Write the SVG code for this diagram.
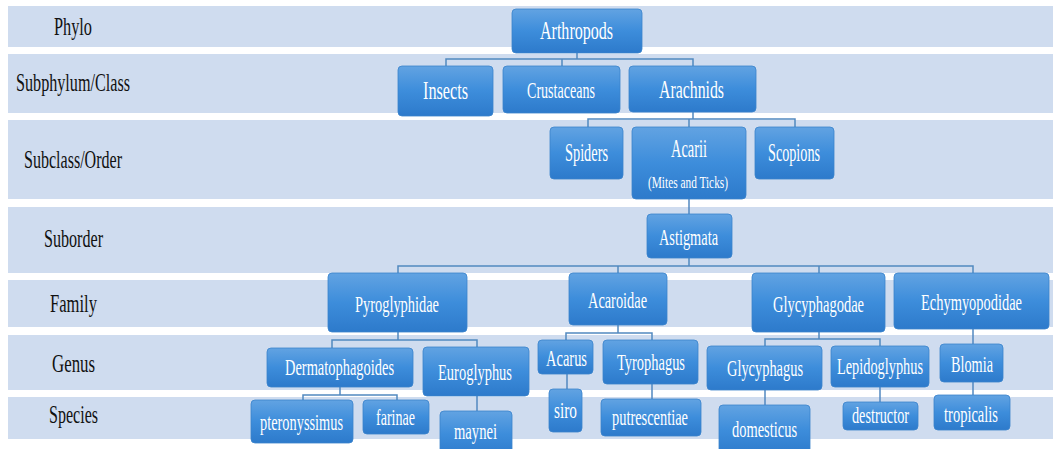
<svg xmlns="http://www.w3.org/2000/svg" width="1053" height="449" viewBox="0 0 1053 449">
<defs>
<linearGradient id="g" x1="0" y1="0" x2="0" y2="1">
<stop offset="0" stop-color="#62a3e2"/>
<stop offset="0.5" stop-color="#3d8ddb"/>
<stop offset="1" stop-color="#2d7acb"/>
</linearGradient>
<style>
.band{fill:#cfdcef}
text{font-family:"Liberation Serif","Times New Roman",serif;text-anchor:middle}
.lbl{font-size:25px;fill:#111}
.n rect{fill:url(#g);stroke:#3a83cc;stroke-width:0.8}
.n text{font-size:25px;fill:#fff}
.n text.s{font-size:17px}
.n text.m{font-size:23px}
.c{fill:none;stroke:#5289c0;stroke-width:1.5}
</style>
</defs>
<rect width="1053" height="449" fill="#ffffff"/>
<g id="bands">
<rect class="band" x="8" y="6" width="1045" height="41"/>
<rect class="band" x="8" y="54" width="1045" height="59"/>
<rect class="band" x="8" y="120" width="1045" height="79"/>
<rect class="band" x="8" y="207" width="1045" height="66"/>
<rect class="band" x="8" y="280" width="1045" height="47"/>
<rect class="band" x="8" y="335" width="1045" height="55"/>
<rect class="band" x="8" y="397" width="1045" height="42"/>
</g>
<g id="labels">
<text class="lbl" transform="translate(73,35) scale(0.66,1)" textLength="57.6" lengthAdjust="spacingAndGlyphs">Phylo</text>
<text class="lbl" transform="translate(73,91) scale(0.66,1)" textLength="172.7" lengthAdjust="spacingAndGlyphs">Subphylum/Class</text>
<text class="lbl" transform="translate(73,168) scale(0.66,1)" textLength="148.5" lengthAdjust="spacingAndGlyphs">Subclass/Order</text>
<text class="lbl" transform="translate(73.5,247) scale(0.66,1)" textLength="89.4" lengthAdjust="spacingAndGlyphs">Suborder</text>
<text class="lbl" transform="translate(73.5,312) scale(0.66,1)" textLength="71.2" lengthAdjust="spacingAndGlyphs">Family</text>
<text class="lbl" transform="translate(73.5,372) scale(0.66,1)" textLength="65.2" lengthAdjust="spacingAndGlyphs">Genus</text>
<text class="lbl" transform="translate(73.5,423) scale(0.66,1)" textLength="74.2" lengthAdjust="spacingAndGlyphs">Species</text>
</g>
<g id="connectors">
<path class="c" d="M577 53V59M446 66V59H693V66M562 59V66"/>
<path class="c" d="M693 112V119M588 127V119H795V127M689 119V127"/>
<path class="c" d="M689 199V214"/>
<path class="c" d="M689 258V266M398 273V266H973V273M618 266V273M819 266V273"/>
<path class="c" d="M398 332V340M332 348V340H477V347"/>
<path class="c" d="M618 325V333M566 340V333H652V340"/>
<path class="c" d="M819 332V339M765 346V339H880V346"/>
<path class="c" d="M973 329V344"/>
<path class="c" d="M340 387V395M303 400V395H397V400"/>
<path class="c" d="M477 396V411"/>
<path class="c" d="M567 374V389"/>
<path class="c" d="M652 384V399"/>
<path class="c" d="M765 390V405"/>
<path class="c" d="M880 387V402"/>
<path class="c" d="M973 382V395"/>
</g>
<g id="arthropods" class="n"><rect x="512" y="9" width="130" height="44" rx="4"/><text transform="translate(576.5,39) scale(0.66,1)" textLength="110.6" lengthAdjust="spacingAndGlyphs">Arthropods</text></g>
<g id="insects" class="n"><rect x="398" y="66" width="95" height="50" rx="4"/><text transform="translate(445.5,99) scale(0.66,1)" textLength="68.2" lengthAdjust="spacingAndGlyphs">Insects</text></g>
<g id="crustaceans" class="n"><rect x="503" y="66" width="117" height="47" rx="4"/><text class="m" transform="translate(561,98) scale(0.66,1)" textLength="103" lengthAdjust="spacingAndGlyphs">Crustaceans</text></g>
<g id="arachnids" class="n"><rect x="629" y="66" width="127" height="46" rx="4"/><text transform="translate(691.5,98) scale(0.66,1)" textLength="98.5" lengthAdjust="spacingAndGlyphs">Arachnids</text></g>
<g id="spiders" class="n"><rect x="550" y="127" width="73" height="52" rx="4"/><text transform="translate(586.5,161) scale(0.66,1)" textLength="65.2" lengthAdjust="spacingAndGlyphs">Spiders</text></g>
<g id="acarii" class="n"><rect x="632" y="127" width="114" height="72" rx="4"/><text transform="translate(689,157) scale(0.66,1)" textLength="54.5" lengthAdjust="spacingAndGlyphs">Acarii</text><text class="s" transform="translate(688,188) scale(0.66,1)" textLength="121.2" lengthAdjust="spacingAndGlyphs">(Mites and Ticks)</text></g>
<g id="scopions" class="n"><rect x="755" y="127" width="79" height="52" rx="4"/><text transform="translate(794,161) scale(0.66,1)" textLength="78.8" lengthAdjust="spacingAndGlyphs">Scopions</text></g>
<g id="astigmata" class="n"><rect x="647" y="214" width="85" height="44" rx="4"/><text class="m" transform="translate(688.5,245) scale(0.66,1)" textLength="89.4" lengthAdjust="spacingAndGlyphs">Astigmata</text></g>
<g id="pyroglyphidae" class="n"><rect x="328" y="273" width="139" height="59" rx="4"/><text class="m" transform="translate(397,312) scale(0.66,1)" textLength="127.3" lengthAdjust="spacingAndGlyphs">Pyroglyphidae</text></g>
<g id="acaroidae" class="n"><rect x="569" y="273" width="98" height="52" rx="4"/><text class="m" transform="translate(617.5,308) scale(0.66,1)" textLength="89.4" lengthAdjust="spacingAndGlyphs">Acaroidae</text></g>
<g id="glycyphagodae" class="n"><rect x="752" y="273" width="133" height="59" rx="4"/><text class="m" transform="translate(818.5,312) scale(0.66,1)" textLength="137.9" lengthAdjust="spacingAndGlyphs">Glycyphagodae</text></g>
<g id="echymyopodidae" class="n"><rect x="894" y="273" width="155" height="56" rx="4"/><text class="m" transform="translate(971.5,310) scale(0.66,1)" textLength="153" lengthAdjust="spacingAndGlyphs">Echymyopodidae</text></g>
<g id="dermatophagoides" class="n"><rect x="267" y="348" width="146" height="39" rx="4"/><text class="m" transform="translate(339.5,375) scale(0.66,1)" textLength="165.2" lengthAdjust="spacingAndGlyphs">Dermatophagoides</text></g>
<g id="euroglyphus" class="n"><rect x="423" y="347" width="106" height="49" rx="4"/><text class="m" transform="translate(475,380) scale(0.66,1)" textLength="112.1" lengthAdjust="spacingAndGlyphs">Euroglyphus</text></g>
<g id="acarus" class="n"><rect x="538" y="340" width="55" height="34" rx="4"/><text class="m" transform="translate(566.5,366) scale(0.66,1)" textLength="62.1" lengthAdjust="spacingAndGlyphs">Acarus</text></g>
<g id="tyrophagus" class="n"><rect x="603" y="340" width="95" height="44" rx="4"/><text class="m" transform="translate(651,370) scale(0.66,1)" textLength="103" lengthAdjust="spacingAndGlyphs">Tyrophagus</text></g>
<g id="glycyphagus" class="n"><rect x="707" y="346" width="115" height="44" rx="4"/><text class="m" transform="translate(765,376) scale(0.66,1)" textLength="115.2" lengthAdjust="spacingAndGlyphs">Glycyphagus</text></g>
<g id="lepidoglyphus" class="n"><rect x="831" y="346" width="98" height="41" rx="4"/><text class="m" transform="translate(880,374) scale(0.66,1)" textLength="130.3" lengthAdjust="spacingAndGlyphs">Lepidoglyphus</text></g>
<g id="blomia" class="n"><rect x="940" y="344" width="63" height="38" rx="4"/><text class="m" transform="translate(972,372) scale(0.66,1)" textLength="63.6" lengthAdjust="spacingAndGlyphs">Blomia</text></g>
<g id="pteronyssimus" class="n"><rect x="251" y="400" width="102" height="43" rx="4"/><text class="m" transform="translate(301.5,430) scale(0.66,1)" textLength="125.8" lengthAdjust="spacingAndGlyphs">pteronyssimus</text></g>
<g id="farinae" class="n"><rect x="363" y="400" width="66" height="34" rx="4"/><text class="m" transform="translate(395.5,425) scale(0.66,1)" textLength="59.1" lengthAdjust="spacingAndGlyphs">farinae</text></g>
<g id="maynei" class="n"><rect x="440" y="411" width="72" height="46" rx="4"/><text class="m" transform="translate(475.5,439) scale(0.66,1)" textLength="65.2" lengthAdjust="spacingAndGlyphs">maynei</text></g>
<g id="siro" class="n"><rect x="549" y="389" width="33" height="43" rx="4"/><text class="m" transform="translate(565.5,418) scale(0.66,1)" textLength="34.8" lengthAdjust="spacingAndGlyphs">siro</text></g>
<g id="putrescentiae" class="n"><rect x="601" y="399" width="100" height="37" rx="4"/><text class="m" transform="translate(650,425) scale(0.66,1)" textLength="115.2" lengthAdjust="spacingAndGlyphs">putrescentiae</text></g>
<g id="domesticus" class="n"><rect x="719" y="405" width="91" height="50" rx="4"/><text class="m" transform="translate(764.5,437) scale(0.66,1)" textLength="98.5" lengthAdjust="spacingAndGlyphs">domesticus</text></g>
<g id="destructor" class="n"><rect x="843" y="402" width="75" height="28" rx="4"/><text class="m" transform="translate(880.5,423) scale(0.66,1)" textLength="86.4" lengthAdjust="spacingAndGlyphs">destructor</text></g>
<g id="tropicalis" class="n"><rect x="934" y="395" width="76" height="35" rx="4"/><text class="m" transform="translate(971,422) scale(0.66,1)" textLength="81.8" lengthAdjust="spacingAndGlyphs">tropicalis</text></g>
</svg>
